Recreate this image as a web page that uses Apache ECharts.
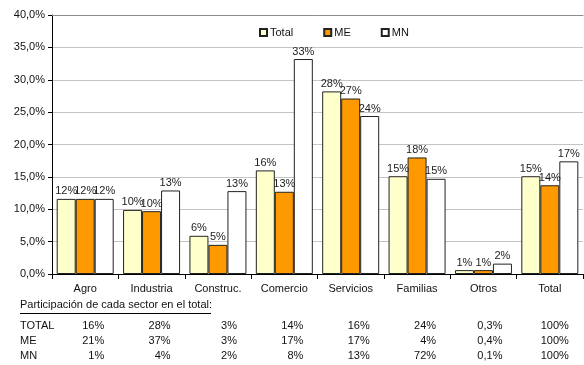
<!DOCTYPE html>
<html>
<head>
<meta charset="utf-8">
<script src="https://cdn.jsdelivr.net/npm/echarts@6/dist/echarts.min.js"></script>
<style>
  html, body { margin: 0; padding: 0; background: #fff; }
  #chart { width: 584px; height: 365px; }
</style>
</head>
<body>
<div id="chart"></div>
<script>
// Sectors on the category axis
const sectors = ['Agro', 'Industria', 'Construc.', 'Comercio', 'Servicios', 'Familias', 'Otros', 'Total'];

// Bar series values (%)
const totalValues = [11.6, 9.9, 5.9, 16.0, 28.2, 15.1, 0.6, 15.1];
const meValues    = [11.6, 9.7, 4.5, 12.7, 27.1, 18.0, 0.6, 13.7];
const mnValues    = [11.6, 12.9, 12.8, 33.2, 24.4, 14.7, 1.6, 17.4];

// Share of each sector in the total (%), shown in the table under the chart
const tableTitle = 'Participación de cada sector en el total:';
const rowNames   = ['TOTAL', 'ME', 'MN'];
const shareTotal = [16, 28, 3, 14, 16, 24, 0.3, 100];
const shareME    = [21, 37, 3, 17, 17, 4, 0.4, 100];
const shareMN    = [1, 4, 2, 8, 13, 72, 0.1, 100];

const FONT = '"Liberation Sans", Arial, sans-serif';
const fmtPct = v => String(v).replace('.', ',') + '%';

const chart = echarts.init(document.getElementById('chart'));

const labelCfg = {
  show: true,
  position: 'top',
  distance: 2,
  fontFamily: FONT,
  fontSize: 11,
  color: '#222',
  formatter: p => Math.round(p.value) + '%'
};

function barSeries(name, data, color) {
  return {
    name, type: 'bar', data,
    barWidth: 19,
    barGap: '0%',
    itemStyle: { color, borderColor: '#222', borderWidth: 1 },
    label: labelCfg,
    emphasis: { disabled: true }
  };
}

chart.setOption({
  animation: false,
  textStyle: { fontFamily: FONT },
  grid: { left: 52, right: 1, top: 15, bottom: 91, containLabel: false },
  legend: {
    top: 22, left: 254,
    itemWidth: 7, itemHeight: 7, itemGap: 30,
    icon: 'rect',
    textStyle: { fontFamily: FONT, fontSize: 11, color: '#111', padding: [0, 0, 0, -2] },
    data: ['Total', 'ME', 'MN']
  },
  xAxis: [{
    type: 'category',
    data: sectors,
    axisLine: { lineStyle: { color: '#000', width: 1 } },
    axisTick: { show: true, length: 5, lineStyle: { color: '#000' } },
    axisLabel: { fontFamily: FONT, fontSize: 11, color: '#111', margin: 9 }
  }, {
    type: 'category',
    position: 'top',
    data: sectors,
    axisLine: { show: true, lineStyle: { color: '#8c8c8c', width: 1 } },
    axisTick: { show: false },
    axisLabel: { show: false }
  }],
  yAxis: {
    type: 'value',
    min: 0, max: 40, interval: 5,
    axisLine: { show: true, lineStyle: { color: '#000' } },
    axisTick: { show: true, length: 4, lineStyle: { color: '#000' } },
    axisLabel: {
      fontFamily: FONT, fontSize: 11, color: '#111', margin: 7,
      formatter: v => v.toFixed(1).replace('.', ',') + '%'
    },
    splitLine: { lineStyle: { color: '#c4c4c4', width: 1 } }
  },
  series: [
    barSeries('Total', totalValues, '#FFFFCC'),
    barSeries('ME', meValues, '#FF9900'),
    barSeries('MN', mnValues, '#FFFFFF')
  ]
});

// Table of sector shares, columns aligned to the category axis
const rows = [shareTotal, shareME, shareMN];
const rowY = [326, 341, 356];
const graphics = [
  { type: 'text', left: 20, top: 299,
    style: { text: tableTitle, font: '11px ' + FONT, fill: '#111' } },
  { type: 'line', shape: { x1: 20, y1: 313.5, x2: 211, y2: 313.5 },
    style: { stroke: '#000', lineWidth: 1 } }
];
rows.forEach((vals, r) => {
  graphics.push({ type: 'text', x: 20, y: rowY[r],
    style: { text: rowNames[r], font: '11px ' + FONT, fill: '#111', verticalAlign: 'middle' } });
  vals.forEach((v, i) => {
    const cx = chart.convertToPixel({ xAxisIndex: 0 }, sectors[i]);
    graphics.push({ type: 'text', x: cx + 19, y: rowY[r],
      style: { text: fmtPct(v), font: '11px ' + FONT, fill: '#111', align: 'right', verticalAlign: 'middle' } });
  });
});
chart.setOption({ graphic: graphics });
</script>
</body>
</html>
